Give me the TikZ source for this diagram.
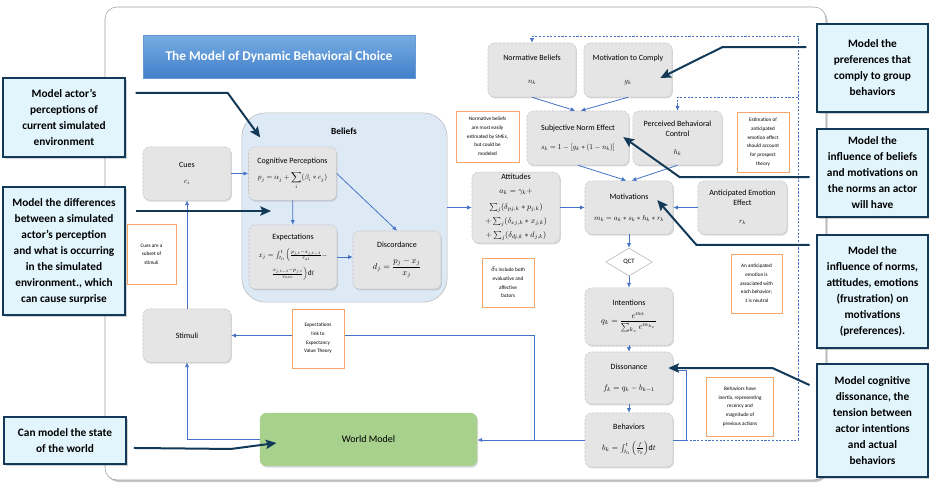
\documentclass[tikz,border=0pt]{standalone}
\usepackage{amsmath}
\usepackage{graphicx}
\usepackage{fontspec}
\setmainfont{Carlito}
\usepackage{tikz}
\usetikzlibrary{positioning}
\usetikzlibrary{arrows.meta}
\usetikzlibrary{shapes.geometric}
\usetikzlibrary{shadows}
\definecolor{lnblue}{RGB}{68,114,196}
\definecolor{navy}{RGB}{18,58,88}
\definecolor{callfill}{RGB}{226,245,253}
\definecolor{boxgray}{RGB}{229,229,229}
\definecolor{blfblue}{RGB}{222,233,246}
\definecolor{notebrd}{RGB}{247,165,105}
\definecolor{wmgreen}{RGB}{169,209,142}
\definecolor{ttltop}{RGB}{118,172,226}
\definecolor{ttlbot}{RGB}{66,128,202}
\newcommand{\fml}[2][.55]{\scalebox{#1}{\fontsize{10}{12}\selectfont$#2$}}

\begin{document}
\begin{tikzpicture}[x=0.75pt, y=-0.75pt, >={Latex[length=3.5pt,width=3.2pt]},
box/.style={draw=gray!45, dash pattern=on 2pt off 1pt, fill=boxgray, rounded corners=5pt, align=center, inner sep=1pt,
  font=\fontsize{6}{7.5}\selectfont, drop shadow={opacity=.3,shadow xshift=.7pt,shadow yshift=-1.1pt},
  minimum width=66pt, minimum height=40pt},
note/.style={draw=notebrd, line width=.5pt, fill=white, align=center, inner sep=1pt, font=\fontsize{3.9}{6.5}\selectfont},
call/.style={draw=navy, line width=1.1pt, fill=callfill, align=center, inner sep=2pt,
  font=\bfseries\fontsize{8.5}{12}\selectfont, drop shadow={opacity=.35,shadow xshift=1.2pt,shadow yshift=-1.5pt}},
callarr/.style={navy, line width=1.5pt, -{Stealth[length=8pt,width=7pt,inset=1.5pt]}},
flow/.style={lnblue, line width=.6pt, ->},
loopd/.style={flow, dash pattern=on 1.6pt off 1.2pt}]

\useasboundingbox (0,0) rectangle (936,496);

\draw[gray!75, fill=white, rounded corners=9pt, drop shadow={opacity=.45,shadow xshift=1.2pt,shadow yshift=-1.5pt}] (105,7) rectangle (826,480);

\node [top color=ttltop, bottom color=ttlbot, draw=ttlbot!80, minimum width=204pt, minimum height=32pt,
  text=white, font=\bfseries\fontsize{10}{12}\selectfont,
  drop shadow={opacity=.3,shadow xshift=1pt,shadow yshift=-1.2pt}] (ttl) at (279,56.5) {The Model of Dynamic Behavioral Choice};

\node [draw=gray!55, fill=blfblue, rounded corners=18pt, minimum width=154pt, minimum height=142pt] (blf) at (344.5,207.5) {};
\node [font=\bfseries\fontsize{7}{8}\selectfont] (blft) at (344,131) {Beliefs};

\node [box] (cues) at (187,173.5) {Cues\\[5pt] \fml{c_i}};
\node [box] (cogp) at (292.5,173.5) {Cognitive Perceptions\\[5pt] \fml{p_j = \alpha_j + \displaystyle\sum_i(\beta_i * c_j)}};
\node [box, minimum height=48pt] (expc) at (293,257) {Expectations\\[6pt]
  \fml{x_j = \int_{t_0}^{t}\Big(\frac{p_{j,t}-x_{j,t-1}}{\tau_{al}} -}\\[3pt] \fml{\frac{x_{j,t-1}-p_{j,t}}{\tau_{am}}\Big)\mathrm{d}t}};
\node [box, minimum height=43.5pt] (disc) at (397,260) {Discordance\\[7pt] \fml[.64]{d_j = \dfrac{p_j - x_j}{x_j}}};
\node [box] (stim) at (187,335.5) {Stimuli};
\node [box, draw=none, fill=wmgreen, minimum width=163pt, font=\fontsize{7.5}{9}\selectfont] (world) at (368.5,439.5) {World Model};

\node [box, minimum height=53pt] (att) at (516,207.5) {Attitudes\\[3pt]
  \fml[.6]{a_k = \gamma_k +}\\[4.5pt] \fml[.6]{\textstyle\sum_j(\delta_{pj,k} * p_{j,k})}\\[3pt] \fml[.6]{+\textstyle\sum_j(\delta_{xj,k} * x_{j,k})}\\[3pt] \fml[.6]{+\textstyle\sum_j(\delta_{dj,k} * d_{j,k})}};
\node [box, minimum height=40.5pt] (normb) at (532,70) {Normative Beliefs\\[10pt] \fml{n_k}};
\node [box, minimum height=40.5pt] (motc) at (628,70) {Motivation to Comply\\[10pt] \fml{g_k}};
\node [box, minimum width=76.5pt, minimum height=40.5pt] (sne) at (578,138) {Subjective Norm Effect\\[7pt] \fml{s_k = 1-[g_k*(1-n_k)]}};
\node [box, minimum width=67pt, minimum height=40.5pt] (pbc) at (677.5,138) {Perceived Behavioral\\ Control\\[6pt] \fml{h_k}};
\node [box] (motv) at (629,207.5) {Motivations\\[8pt] \fml{m_k = a_k*s_k*h_k*r_k}};
\node [box, minimum width=67pt] (aee) at (742.5,207.5) {Anticipated Emotion\\ Effect\\[6pt] \fml{r_k}};
\node [diamond, draw=gray!60, fill=white, minimum width=35pt, minimum height=21pt, inner sep=0pt,
  font=\fontsize{5}{6}\selectfont] (qct) at (629,262) {QCT};
\node [box, minimum height=43pt] (intn) at (629,316.5) {Intentions\\[4pt] \fml[.62]{q_k = \dfrac{e^{m_k}}{\sum_{k_v} e^{m_{k_v}}}}};
\node [box, minimum height=39pt] (diss) at (629,378) {Dissonance\\[8pt] \fml[.6]{f_k = q_k - b_{k-1}}};
\node [box, minimum height=40.5pt] (behv) at (629,440) {Behaviors\\[8pt] \fml[.6]{b_k = \int_{t_0}^{t}\Big(\frac{f}{\tau_b}\Big)\mathrm{d}t}};

\coordinate (j1) at (534,440);
\coordinate (j2) at (686,440);
\coordinate (j3) at (798,440);
\coordinate (j4) at (798,36);
\coordinate (j5) at (798,97);
\coordinate (pin) at (271,211);

\draw[flow] (cues) -- (cogp);
\draw[flow] (cogp) -- (expc);
\draw[flow] (cogp.east) -- (disc.north);
\draw[flow] (expc.east) -- (expc.east -| disc.west);
\draw[flow] (blf.east) -- (att.west);
\draw[flow] (att) -- (motv);
\draw[flow] (normb.south) -- ([xshift=-2pt]sne.north);
\draw[flow] (motc.south) -- ([xshift=2pt]sne.north);
\draw[flow] (sne.south) -- ([xshift=-2pt]motv.north);
\draw[flow] (pbc.south) -- ([xshift=2pt]motv.north);
\draw[flow] (aee) -- (motv);
\draw[flow] (motv) -- (qct);
\draw[flow] (qct) -- (intn);
\draw[flow] (intn) -- (diss);
\draw[flow] (diss) -- (behv);
\draw[flow] (behv.west) -- (behv.west -| world.east);
\draw[flow] (j1) |- (stim.east);
\draw[flow] (world.west) -| (stim.south);
\draw[flow] (stim) -- (cues);
\draw[flow] (behv.east) -- (j2) |- ([yshift=6pt]diss.east);
\draw[loopd] (j2) -- (j3) -- (j4) -| (normb.north);
\draw[loopd] (j5) -| (pbc.north);

\node [note, minimum width=47pt, minimum height=38pt] (nt1) at (487.5,136.5) {Normative beliefs\\ are most easily\\ estimated by SMEs,\\ but could be\\ modeled};
\node [note, minimum width=39pt, minimum height=45pt] (nt2) at (763,142) {Estimation of\\ anticipated\\ emotion effect\\ should account\\ for prospect\\ theory};
\node [note, minimum width=37pt, minimum height=45pt] (nt3) at (151.5,254) {Cues are a\\ subset of\\ stimuli};
\node [note, minimum width=39pt, minimum height=37pt] (nt4) at (508,282.5) {$\delta$s include both\\ evaluative and\\ affective\\ factors};
\node [note, minimum width=39pt, minimum height=44pt] (nt5) at (318,338.5) {Expectations\\ link to\\ Expectancy\\ Value Theory};
\node [note, minimum width=38pt, minimum height=44pt] (nt6) at (756.5,283.5) {An anticipated\\ emotion is\\ associated with\\ each behavior;\\ 1 is neutral};
\node [note, minimum width=50pt, minimum height=44pt] (nt7) at (740,406.5) {Behaviors have\\ inertia, representing\\ recency and\\ magnitude of\\ previous actions};

\node [call, minimum width=91.5pt, minimum height=59pt] (cl1) at (64,117.5) {Model actor’s\\ perceptions of\\ current simulated\\ environment};
\node [call, minimum width=91.5pt, minimum height=96pt] (cl2) at (64,251) {Model the differences\\ between a simulated\\ actor’s perception\\ and what is occurring\\ in the simulated\\ environment., which\\ can cause surprise};
\node [call, minimum width=91.5pt, minimum height=35pt] (cl3) at (65,440.5) {Can model the state\\ of the world};
\node [call, minimum width=83pt, minimum height=66pt] (cr1) at (872.5,68) {Model the\\ preferences that\\ comply to group\\ behaviors};
\node [call, minimum width=83pt, minimum height=66pt] (cr2) at (872.5,173) {Model the\\ influence of beliefs\\ and motivations on\\ the norms an actor\\ will have};
\node [call, minimum width=83pt, minimum height=85pt] (cr3) at (872.5,291.5) {Model the\\ influence of norms,\\ attitudes, emotions\\ (frustration) on\\ motivations\\ (preferences).};
\node [call, minimum width=83pt, minimum height=85pt] (cr4) at (872.5,420.5) {Model cognitive\\ dissonance, the\\ tension between\\ actor intentions\\ and actual\\ behaviors};

\draw[callarr] ([xshift=7.5pt,yshift=18.4pt]cl1.east) -- ++(92,0) -- ([xshift=9pt,yshift=6.8pt]cogp.north west);
\draw[callarr] ([xshift=7.5pt,yshift=30pt]cl2.east) -- (pin);
\draw[callarr] ([xshift=5.3pt,yshift=-5.6pt]cl3.east) -- ++(97,1) -- ([xshift=12.7pt,yshift=-2.6pt]world.west);
\draw[callarr] ([xshift=-7.5pt,yshift=15.7pt]cr1.west) -- ++(-84,0) -- ([xshift=-9pt,yshift=-6pt]motc.east);
\draw[callarr] ([xshift=-5.2pt,yshift=-3pt]cr2.west) -- ++(-130,0) -- ([xshift=-4.5pt,yshift=.7pt]sne.east);
\draw[callarr] ([xshift=-5.2pt,yshift=34.9pt]cr3.west) -- ++(-113,0) -- ([xshift=-12pt,yshift=5.6pt]motv.east);
\draw[callarr] ([xshift=-5.2pt,yshift=26.6pt]cr4.west) -- ++(-37,-17) -- ([xshift=-3.7pt,yshift=7.5pt]diss.east);

\end{tikzpicture}
\end{document}
